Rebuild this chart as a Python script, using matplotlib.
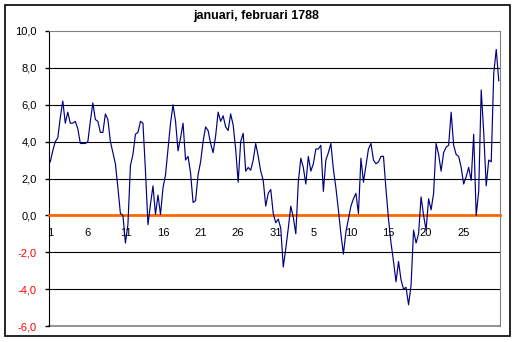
import matplotlib
matplotlib.use('Agg')
import matplotlib.pyplot as plt
from matplotlib.patches import Rectangle

# drie waarnemingen per dag, januari (31 dagen) en februari (29 dagen) 1788
jan = [2.9, 3.5, 4.0, 4.2, 5.3, 6.2, 5.0, 5.6, 5.0, 5.0,
       5.1, 4.7, 3.9, 3.9, 3.9, 4.0, 5.1, 6.1, 5.2, 5.1,
       4.5, 4.5, 5.5, 5.2, 4.0, 3.4, 2.8, 1.5, 0.1, 0.0,
       -1.5, -0.5, 2.7, 3.3, 4.4, 4.5, 5.1, 5.0, 2.4, -0.5,
       0.6, 1.6, 0.05, 1.1, 0.05, 1.5, 2.2, 3.6, 5.0, 6.0,
       5.1, 3.5, 4.2, 5.0, 3.0, 3.2, 2.3, 0.7, 0.8, 2.2,
       2.9, 4.0, 4.8, 4.6, 3.9, 3.4, 4.3, 5.6, 5.1, 5.4,
       4.8, 4.6, 5.5, 4.9, 3.6, 1.8, 4.0, 4.45, 2.4, 2.6,
       2.45, 3.0, 3.9, 3.2, 2.4, 1.9, 0.5, 1.2, 1.4, 0.1,
       -0.4, -0.2, -0.7]
feb = [-2.8, -1.8, -0.7, 0.5, -0.1, -1.0, 1.8, 3.1, 2.6, 1.7,
       3.2, 2.4, 2.8, 3.6, 3.6, 3.8, 1.3, 3.0, 3.4, 3.9,
       2.5, 1.5, 0.3, -1.0, -2.1, -0.9, -0.2, 0.5, 0.9, 1.2,
       0.1, 3.1, 1.8, 2.7, 3.6, 3.9, 3.0, 2.8, 2.9, 3.2,
       3.2, 1.4, -0.2, -1.5, -2.5, -3.6, -2.5, -3.5, -4.0, -3.9,
       -4.85, -3.8, -0.8, -1.5, -1.0, 1.0, 0.0, -0.8, 0.9, 0.3,
       1.2, 3.9, 3.3, 2.4, 3.4, 3.7, 3.8, 5.6, 3.8, 3.3,
       3.2, 2.6, 1.7, 2.1, 2.6, 1.9, 4.4, 0.0, 1.3, 6.8,
       4.5, 1.6, 3.0, 2.9, 7.7, 9.0, 7.3]

jan_days = list(range(1, 32))
feb_days = list(range(1, 30))
per_day = 3
label_step = 5

temps = jan + feb
days = jan_days + feb_days
x = list(range(len(temps)))

fig = plt.figure(figsize=(5.16, 3.42), dpi=100)
ax = fig.add_axes([49 / 516, 1 - 326 / 342, 451 / 516, 295 / 342])

ax.plot(x, temps, color='#000080', linewidth=0.85, zorder=3)

ax.set_xlim(-0.5, len(temps) - 0.5)
ax.set_ylim(-6, 10)

# horizontale rasterlijnen
for g in [-4, -2, 2, 4, 6, 8]:
    ax.axhline(g, color='black', linewidth=0.8, zorder=1)
ax.axhline(-6, color='#808080', linewidth=1.2, zorder=1, clip_on=False)

# categorie-as op 0, oranje
ax.spines['bottom'].set_position(('data', 0))
ax.spines['bottom'].set_color('#FF6600')
ax.spines['bottom'].set_linewidth(2.0)
ax.spines['top'].set_color('#808080')
ax.spines['right'].set_color('#808080')
ax.spines['left'].set_color('black')

ticks = list(range(0, len(temps), per_day * label_step))
ax.set_xticks(ticks)
ax.set_xticklabels([str(days[t // per_day]) for t in ticks],
                   fontsize=8, family='Liberation Sans')
ax.tick_params(axis='x', length=0, pad=9)

yt = list(range(-6, 11, 2))
ax.set_yticks(yt)
ax.set_yticklabels([f"{v:.1f}".replace('.', ',') for v in yt],
                   fontsize=8, family='Liberation Sans')
ax.tick_params(axis='y', length=3, width=1, pad=6)
for lbl, v in zip(ax.get_yticklabels(), yt):
    if v < 0:
        lbl.set_color('#FF0000')

fig.text(256 / 516, 1 - 16 / 342, 'januari, februari 1788', ha='center', va='center',
         fontsize=9, fontweight='bold', family='Liberation Sans')

# kader om de hele grafiek
fig.patches.append(Rectangle((5 / 516, 1 - 336 / 342), 505 / 516, 331 / 342,
                             transform=fig.transFigure, fill=False,
                             edgecolor='black', linewidth=1.2))

fig.savefig('out.png', dpi=100)
